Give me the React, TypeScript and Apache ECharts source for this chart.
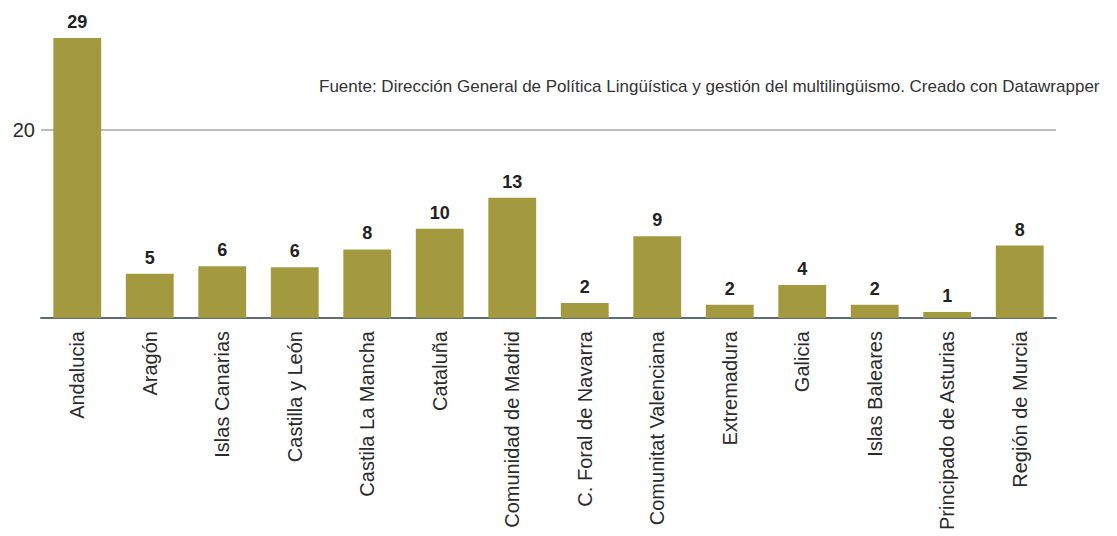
import React, { useEffect, useRef } from "react";
import * as echarts from "echarts";

const categories: string[] = [
  "Andalucia",
  "Aragón",
  "Islas Canarias",
  "Castilla y León",
  "Castila La Mancha",
  "Cataluña",
  "Comunidad de Madrid",
  "C. Foral de Navarra",
  "Comunitat Valenciana",
  "Extremadura",
  "Galicia",
  "Islas Baleares",
  "Principado de Asturias",
  "Región de Murcia",
];

// bar heights
const barValues: number[] = [29.8, 4.7, 5.5, 5.4, 7.3, 9.5, 12.8, 1.6, 8.7, 1.4, 3.5, 1.4, 0.65, 7.7];
// value labels as printed above the bars
const barLabels: string[] = ["29", "5", "6", "6", "8", "10", "13", "2", "9", "2", "4", "2", "1", "8"];

const yTickLabels: number[] = [20];

const sourceText =
  "Fuente: Dirección General de Política Lingüística y gestión del multilingüismo. Creado con Datawrapper";

export default function App() {
  const ref = useRef<HTMLDivElement>(null);

  useEffect(() => {
    document.body.style.margin = "0";
    if (!ref.current) return;
    const chart = echarts.init(ref.current, null, { renderer: "svg" });
    const font = "'Liberation Sans', Arial, Helvetica, sans-serif";
    chart.setOption({
      animation: false,
      textStyle: { fontFamily: font },
      grid: { left: 41, right: 61, top: 36, bottom: 218, containLabel: false },
      xAxis: {
        type: "category",
        data: categories,
        axisLine: { show: true, lineStyle: { color: "#5f6b74", width: 2 } },
        axisTick: { show: false },
        axisLabel: {
          rotate: 90,
          interval: 0,
          margin: 13,
          fontSize: 20,
          color: "#2b2b2b",
          fontFamily: font,
        },
      },
      yAxis: {
        type: "value",
        min: 0,
        max: 30,
        interval: 10,
        axisLine: { show: false },
        axisTick: { show: false },
        axisLabel: {
          margin: 6,
          fontSize: 20,
          color: "#2b2b2b",
          fontFamily: font,
          formatter: (v: number) => (yTickLabels.includes(v) ? String(v) : ""),
        },
        splitLine: {
          show: true,
          lineStyle: {
            color: ["transparent", "transparent", "#a4a8ac", "transparent"],
            width: 1.5,
          },
        },
      },
      series: [
        {
          type: "bar",
          data: barValues,
          barCategoryGap: "34%",
          itemStyle: { color: "#a39a40" },
          label: {
            show: true,
            position: "top",
            distance: 7,
            fontSize: 18,
            fontWeight: "bold",
            color: "#222222",
            fontFamily: font,
            formatter: (p: any) => barLabels[p.dataIndex],
          },
        },
      ],
      graphic: [
        {
          type: "text",
          left: 319,
          top: 78,
          style: {
            text: sourceText,
            fontSize: 17,
            fill: "#333333",
            fontFamily: font,
          },
        },
      ],
    });
    return () => chart.dispose();
  }, []);

  return <div ref={ref} style={{ width: 1117, height: 536 }} />;
}
